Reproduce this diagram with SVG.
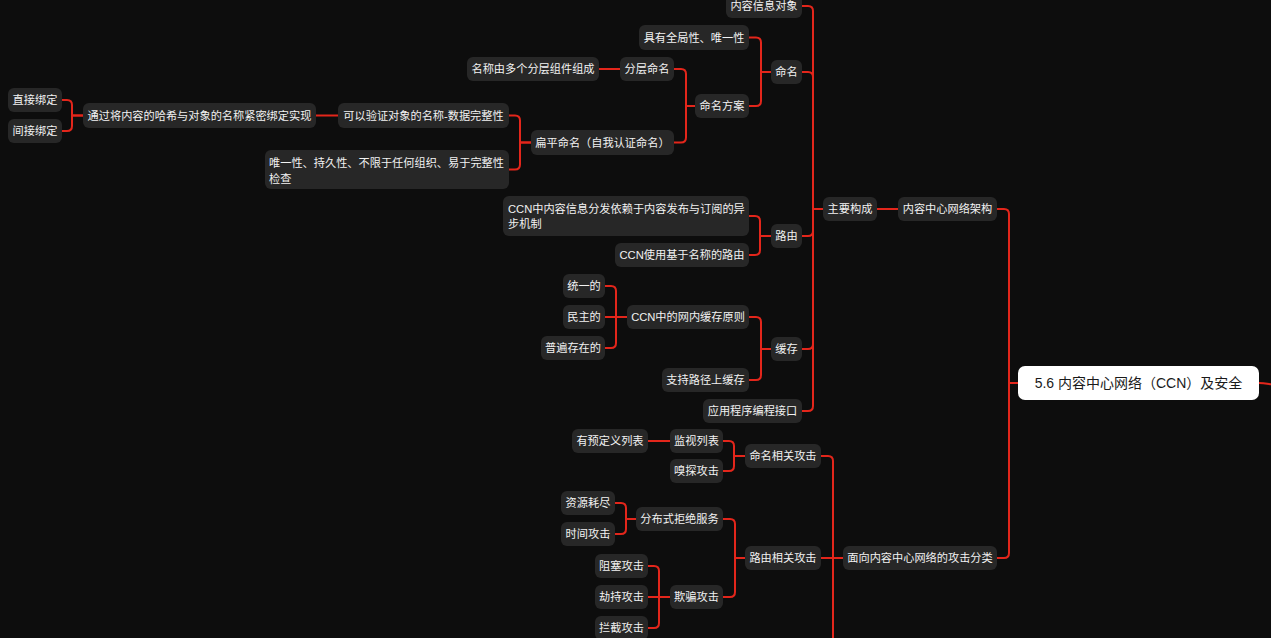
<svg xmlns="http://www.w3.org/2000/svg" width="1271" height="638" viewBox="0 0 1271 638">
<style>
.bg{fill:#0d0d0d}
.n rect{fill:#272727}
.n text{fill:#f2f2f2;font-family:"Liberation Sans","Noto Sans CJK SC",sans-serif;font-size:11.2px;text-anchor:middle;dominant-baseline:central}
.n text.l{text-anchor:start}
#n_root rect{fill:#ffffff}
#n_root text{fill:#1a1a1a;font-size:14px}
.c path{fill:none;stroke:#e3261b;stroke-width:2;stroke-linecap:round}
</style>
<rect class="bg" x="0" y="0" width="1271" height="638"/>
<g class="c" id="connectors">
<path d="M83 115.5 H72 V105 Q72 100 67 100 H62"/>
<path d="M83 115.5 H72 V126 Q72 131 67 131 H62"/>
<path d="M338 115.5 H316"/>
<path d="M531 142.5 H520 V120.5 Q520 115.5 515 115.5 H509"/>
<path d="M531 142.5 H520 V164.5 Q520 169.5 515 169.5 H509"/>
<path d="M620 69 H599"/>
<path d="M695 106 H686 V74 Q686 69 681 69 H674"/>
<path d="M695 106 H686 V137.5 Q686 142.5 681 142.5 H674"/>
<path d="M771 72 H761 V42.5 Q761 37.5 756 37.5 H749"/>
<path d="M771 72 H761 V101 Q761 106 756 106 H749"/>
<path d="M823 209 H813 V11 Q813 6 808 6 H802"/>
<path d="M823 209 H813 V77 Q813 72 808 72 H802"/>
<path d="M823 209 H813 V231 Q813 236 808 236 H802"/>
<path d="M823 209 H813 V344 Q813 349 808 349 H802"/>
<path d="M823 209 H813 V406 Q813 411 808 411 H802"/>
<path d="M771 236 H760 V221 Q760 216 755 216 H749"/>
<path d="M771 236 H760 V250 Q760 255 755 255 H749"/>
<path d="M771 349 H761 V322 Q761 317 756 317 H749"/>
<path d="M771 349 H761 V375 Q761 380 756 380 H749"/>
<path d="M627 317 H616 V291 Q616 286 611 286 H605"/>
<path d="M627 317 H605"/>
<path d="M627 317 H616 V343 Q616 348 611 348 H605"/>
<path d="M898 209 H877"/>
<path d="M1018 383 H1009 V214 Q1009 209 1004 209 H997"/>
<path d="M1018 383 H1009 V553 Q1009 558 1004 558 H997"/>
<path d="M1259 383 C1265 383 1268 384 1276 385"/>
<path d="M843 558 H833 V461 Q833 456 828 456 H821"/>
<path d="M843 558 H821"/>
<path d="M843 558 H833 V660"/>
<path d="M745 456 H734 V446 Q734 441 729 441 H723"/>
<path d="M745 456 H734 V466 Q734 471 729 471 H723"/>
<path d="M670 441 H648"/>
<path d="M745 558 H735 V524 Q735 519 730 519 H723"/>
<path d="M745 558 H735 V592 Q735 597 730 597 H723"/>
<path d="M636 519 H626 V508 Q626 503 621 503 H615"/>
<path d="M636 519 H626 V529 Q626 534 621 534 H615"/>
<path d="M670 597 H659 V571 Q659 566 654 566 H648"/>
<path d="M670 597 H648"/>
<path d="M670 597 H659 V623 Q659 628 654 628 H648"/>
</g>
<g class="n" id="n_direct"><rect x="8" y="88" width="54" height="24" rx="6"/><text x="35" y="100">直接绑定</text></g>
<g class="n" id="n_indirect"><rect x="8" y="119" width="54" height="24" rx="6"/><text x="35" y="131">间接绑定</text></g>
<g class="n" id="n_hashbind"><rect x="83" y="103" width="233" height="25" rx="6"/><text x="199.5" y="115.5">通过将内容的哈希与对象的名称紧密绑定实现</text></g>
<g class="n" id="n_verify"><rect x="338" y="103" width="171" height="25" rx="6"/><text x="423.5" y="115.5">可以验证对象的名称-数据完整性</text></g>
<g class="n" id="n_props"><rect x="265" y="150" width="244" height="39" rx="6"/><text class="l" x="269" y="162.5">唯一性、持久性、不限于任何组织、易于完整性</text><text class="l" x="269" y="178.5">检查</text></g>
<g class="n" id="n_hier_desc"><rect x="467" y="57" width="132" height="24" rx="6"/><text x="533" y="69">名称由多个分层组件组成</text></g>
<g class="n" id="n_hier"><rect x="620" y="57" width="54" height="24" rx="6"/><text x="647" y="69">分层命名</text></g>
<g class="n" id="n_flat"><rect x="531" y="130" width="143" height="25" rx="6"/><text x="602.5" y="142.5">扁平命名（自我认证命名）</text></g>
<g class="n" id="n_scheme"><rect x="695" y="94" width="54" height="24" rx="6"/><text x="722" y="106">命名方案</text></g>
<g class="n" id="n_global"><rect x="639" y="25" width="110" height="25" rx="6"/><text x="694" y="37.5">具有全局性、唯一性</text></g>
<g class="n" id="n_naming"><rect x="771" y="60" width="31" height="24" rx="6"/><text x="786.5" y="72">命名</text></g>
<g class="n" id="n_cio"><rect x="726" y="-6" width="76" height="24" rx="6"/><text x="764" y="6">内容信息对象</text></g>
<g class="n" id="n_pubsub"><rect x="503" y="196" width="246" height="40" rx="6"/><text class="l" x="508" y="209">CCN中内容信息分发依赖于内容发布与订阅的异</text><text class="l" x="508" y="224">步机制</text></g>
<g class="n" id="n_namerouting"><rect x="615" y="243" width="134" height="24" rx="6"/><text x="682" y="255">CCN使用基于名称的路由</text></g>
<g class="n" id="n_routing"><rect x="771" y="224" width="31" height="24" rx="6"/><text x="786.5" y="236">路由</text></g>
<g class="n" id="n_uniform"><rect x="563" y="274" width="42" height="24" rx="6"/><text x="584" y="286">统一的</text></g>
<g class="n" id="n_democratic"><rect x="563" y="305" width="42" height="24" rx="6"/><text x="584" y="317">民主的</text></g>
<g class="n" id="n_ubiq"><rect x="541" y="336" width="64" height="24" rx="6"/><text x="573" y="348">普遍存在的</text></g>
<g class="n" id="n_cacheprin"><rect x="627" y="305" width="122" height="24" rx="6"/><text x="688" y="317">CCN中的网内缓存原则</text></g>
<g class="n" id="n_onpath"><rect x="662" y="368" width="87" height="24" rx="6"/><text x="705.5" y="380">支持路径上缓存</text></g>
<g class="n" id="n_cache"><rect x="771" y="337" width="31" height="24" rx="6"/><text x="786.5" y="349">缓存</text></g>
<g class="n" id="n_api"><rect x="703" y="399" width="99" height="24" rx="6"/><text x="752.5" y="411">应用程序编程接口</text></g>
<g class="n" id="n_main"><rect x="823" y="197" width="54" height="24" rx="6"/><text x="850" y="209">主要构成</text></g>
<g class="n" id="n_arch"><rect x="898" y="197" width="99" height="24" rx="6"/><text x="947.5" y="209">内容中心网络架构</text></g>
<g class="n" id="n_root"><rect x="1018" y="366" width="241" height="34" rx="7"/><text x="1138.5" y="383">5.6 内容中心网络（CCN）及安全</text></g>
<g class="n" id="n_attack"><rect x="843" y="546" width="154" height="24" rx="6"/><text x="920" y="558">面向内容中心网络的攻击分类</text></g>
<g class="n" id="n_nameatk"><rect x="745" y="444" width="76" height="24" rx="6"/><text x="783" y="456">命名相关攻击</text></g>
<g class="n" id="n_watch"><rect x="670" y="429" width="53" height="24" rx="6"/><text x="696.5" y="441">监视列表</text></g>
<g class="n" id="n_predef"><rect x="572" y="429" width="76" height="24" rx="6"/><text x="610" y="441">有预定义列表</text></g>
<g class="n" id="n_sniff"><rect x="670" y="459" width="53" height="24" rx="6"/><text x="696.5" y="471">嗅探攻击</text></g>
<g class="n" id="n_routeatk"><rect x="745" y="546" width="76" height="24" rx="6"/><text x="783" y="558">路由相关攻击</text></g>
<g class="n" id="n_ddos"><rect x="636" y="507" width="87" height="24" rx="6"/><text x="679.5" y="519">分布式拒绝服务</text></g>
<g class="n" id="n_exhaust"><rect x="561" y="491" width="54" height="24" rx="6"/><text x="588" y="503">资源耗尽</text></g>
<g class="n" id="n_timing"><rect x="561" y="522" width="54" height="24" rx="6"/><text x="588" y="534">时间攻击</text></g>
<g class="n" id="n_spoof"><rect x="670" y="585" width="53" height="24" rx="6"/><text x="696.5" y="597">欺骗攻击</text></g>
<g class="n" id="n_block"><rect x="595" y="554" width="53" height="24" rx="6"/><text x="621.5" y="566">阻塞攻击</text></g>
<g class="n" id="n_hijack"><rect x="595" y="585" width="53" height="24" rx="6"/><text x="621.5" y="597">劫持攻击</text></g>
<g class="n" id="n_intercept"><rect x="595" y="616" width="53" height="24" rx="6"/><text x="621.5" y="628">拦截攻击</text></g>
</svg>
